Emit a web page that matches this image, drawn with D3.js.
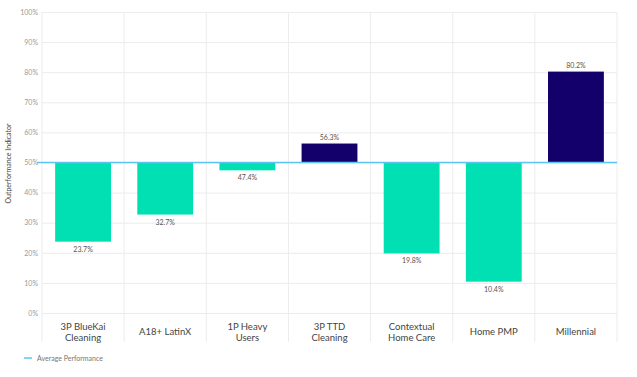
<!DOCTYPE html>
<html lang="en">
<head>
<meta charset="UTF-8">
<title>Outperformance Indicator</title>
<script src="https://d3js.org/d3.v7.min.js"></script>
<style>
  body { margin: 0; background: #fff; }
  text { font-family: Lato, "Open Sans", sans-serif; }
</style>
</head>
<body>
<script>
// chart data
const categories = [["3P BlueKai", "Cleaning"], ["A18+ LatinX"], ["1P Heavy", "Users"],
                    ["3P TTD", "Cleaning"], ["Contextual", "Home Care"], ["Home PMP"], ["Millennial"]];
const values = [23.7, 32.7, 47.4, 56.3, 19.8, 10.4, 80.2];
const yTicks = [0, 10, 20, 30, 40, 50, 60, 70, 80, 90, 100];
const average = 50;

const W = 637, H = 377;
const margin = {left: 42, right: 20, top: 12, bottom: 64};

const svg = d3.select("body").append("svg")
    .attr("width", W).attr("height", H);

const x = d3.scaleBand()
    .domain(categories.map((d, i) => i))
    .range([margin.left, W - margin.right])
    .padding(0);

const y = d3.scaleLinear()
    .domain([0, 100])
    .range([H - margin.bottom, margin.top]);

// vertical gridlines at band edges
const edges = categories.map((d, i) => x(i)).concat([x.range()[1]]);
svg.append("g").selectAll("line")
    .data(edges).enter().append("line")
    .attr("x1", d => d).attr("x2", d => d)
    .attr("y1", y(100)).attr("y2", y(0) + 29)
    .attr("stroke", "#ececec").attr("stroke-width", 1);

// horizontal gridlines + tick labels
const yAxis = svg.append("g")
    .attr("transform", `translate(${margin.left},0)`)
    .call(d3.axisLeft(y).tickValues(yTicks).tickFormat(d => d + "%")
        .tickSize(-(x.range()[1] - margin.left)).tickPadding(4));
yAxis.select(".domain").remove();
yAxis.selectAll(".tick line").attr("stroke", "#ececec").attr("x1", 0);
yAxis.selectAll(".tick text")
    .attr("fill", "#9a9a9a").style("font-size", "7px");

// bars from the average line
const bw = x.bandwidth() * 0.68;
svg.append("g").selectAll("rect")
    .data(values).enter().append("rect")
    .attr("x", (d, i) => x(i) + (x.bandwidth() - bw) / 2)
    .attr("width", bw)
    .attr("y", d => y(Math.max(d, average)))
    .attr("height", d => Math.abs(y(d) - y(average)))
    .attr("fill", d => d >= average ? "#14006b" : "#00e0b2");

// value labels
svg.append("g").selectAll("text")
    .data(values).enter().append("text")
    .attr("x", (d, i) => x(i) + x.bandwidth() / 2)
    .attr("y", d => d >= average ? y(d) - 4 : y(d) + 10)
    .attr("text-anchor", "middle")
    .attr("fill", "#555")
    .style("font-size", "7px")
    .text(d => d.toFixed(1) + "%");

// average line
svg.append("line")
    .attr("x1", margin.left - 5).attr("x2", x.range()[1])
    .attr("y1", y(average)).attr("y2", y(average))
    .attr("stroke", "#5cc6f2").attr("stroke-width", 1.5);

// category labels
const cat = svg.append("g").selectAll("text")
    .data(categories).enter().append("text")
    .attr("x", (d, i) => x(i) + x.bandwidth() / 2)
    .attr("y", d => d.length > 1 ? y(0) + 17 : y(0) + 22)
    .attr("text-anchor", "middle")
    .attr("fill", "#444")
    .style("font-size", "9.5px");
cat.selectAll("tspan")
    .data(d => d).enter().append("tspan")
    .attr("x", function () { return d3.select(this.parentNode).attr("x"); })
    .attr("dy", (d, i) => i === 0 ? 0 : 11)
    .text(d => d);

// y-axis title
svg.append("text")
    .attr("transform", `translate(11,${y(50) + 1}) rotate(-90)`)
    .attr("text-anchor", "middle")
    .attr("fill", "#444")
    .style("font-size", "7px")
    .text("Outperformance Indicator");

// legend
svg.append("line")
    .attr("x1", 24).attr("x2", 32).attr("y1", 358).attr("y2", 358)
    .attr("stroke", "#5cc6f2").attr("stroke-width", 1.5);
svg.append("text")
    .attr("x", 37).attr("y", 360.5)
    .attr("fill", "#777")
    .style("font-size", "7px")
    .text("Average Performance");
</script>
</body>
</html>
